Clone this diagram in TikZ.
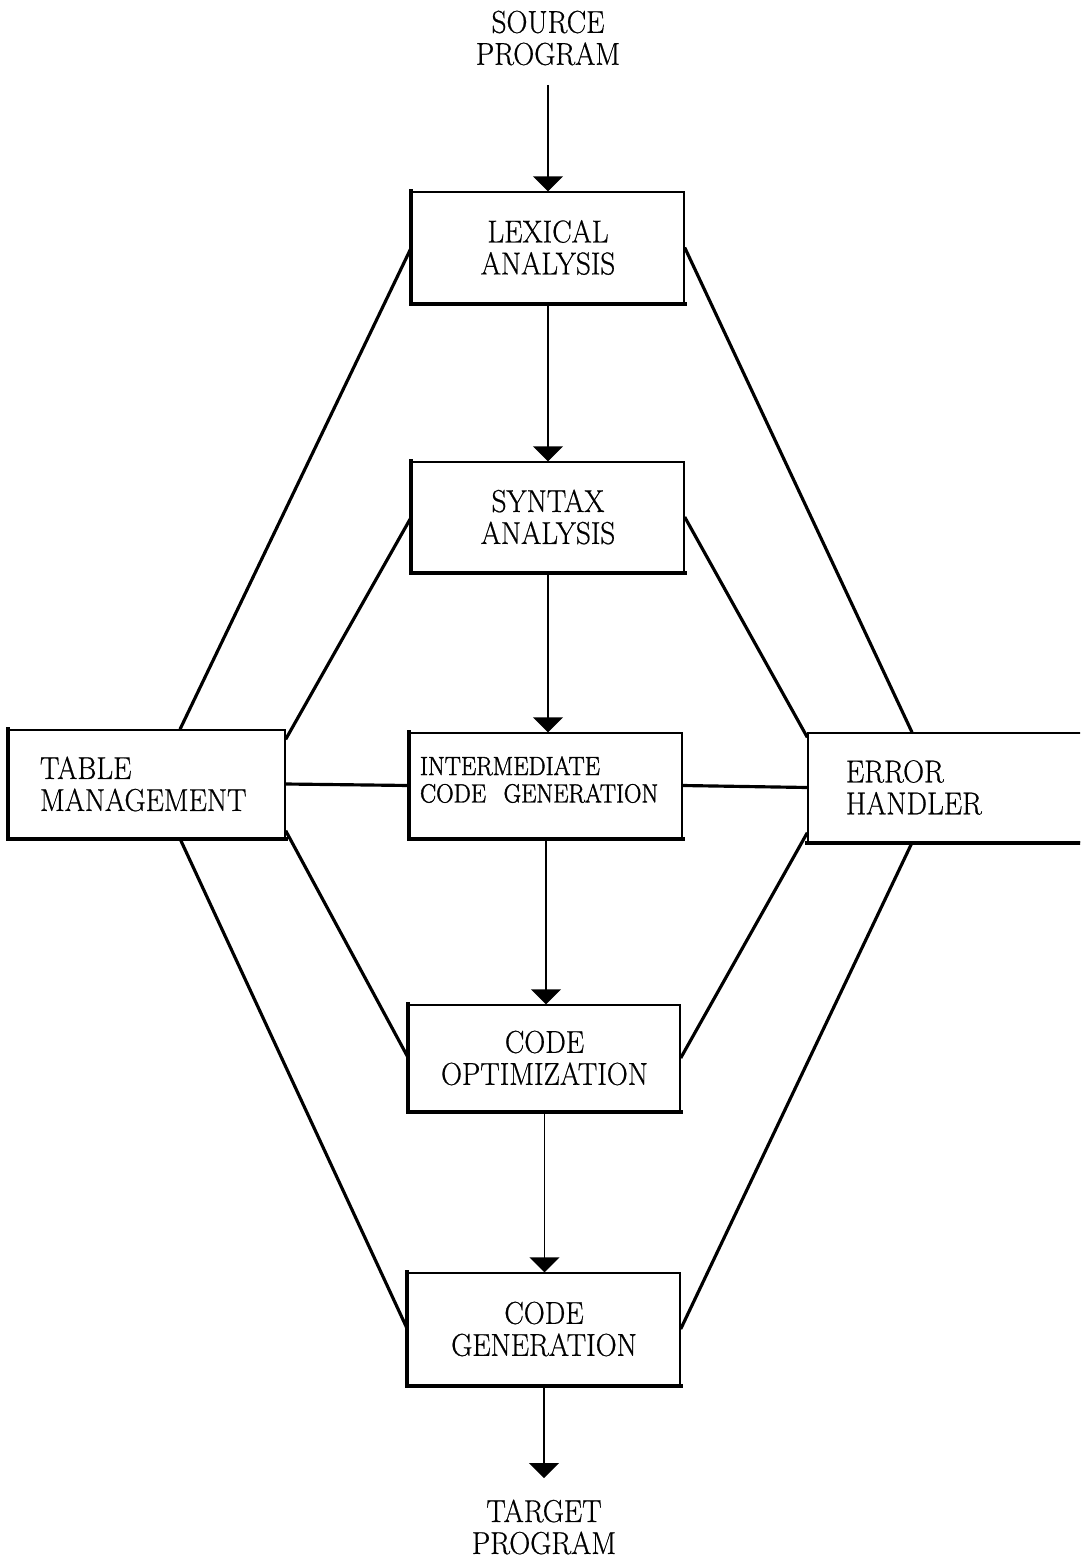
\documentclass[tikz,border=0pt]{standalone}
\usepackage{fontspec}
\setmainfont{Latin Modern Roman}[FakeStretch=0.92,FakeBold=0.6]
\newfontfamily\heavyfont{Latin Modern Roman}[FakeStretch=0.92,FakeBold=1.4]
\usetikzlibrary{arrows.meta,calc}
\begin{document}
\begin{tikzpicture}[x=0.02cm,y=-0.02cm,
  box/.style={draw,line width=0.8pt,align=center,inner sep=0pt,
    font=\fontsize{18}{18.2}\selectfont},
  lbox/.style={draw,line width=0.8pt,align=left,inner ysep=0pt,
    font=\fontsize{18}{18.2}\selectfont},
  ibox/.style={draw,line width=0.8pt,align=left,inner ysep=0pt,
    font=\heavyfont\fontsize{15}{15.6}\selectfont},
  lbl/.style={align=center,inner sep=0pt,font=\fontsize{18}{18.2}\selectfont},
  arr/.style={line width=0.75pt,-{Triangle[width=17pt,length=8.5pt]}},
  link/.style={line width=1.8pt},
  heavyedge/.style={line width=2.2pt,line cap=rect}]
\useasboundingbox (0,0) rectangle (1080,1561);
\clip (0,0) rectangle (1080,1561);

% texts
\node[lbl] (src) at (548,38) {SOURCE\\PROGRAM};
\node[lbl] (tgt) at (544,1527) {TARGET\\PROGRAM};
\coordinate (srcend) at (548,85);
\coordinate (tgtend) at (544,1478);

% boxes
\node[box,minimum width=272*0.02cm,minimum height=111*0.02cm] (lex) at (548,247.5) {LEXICAL\\ANALYSIS};
\node[box,minimum width=272*0.02cm,minimum height=110*0.02cm] (syn) at (548,517) {SYNTAX\\ANALYSIS};
\node[ibox,inner xsep=10*0.02cm,text width=252*0.02cm,text depth=22.5pt,minimum width=272*0.02cm,minimum height=105*0.02cm] (int) at (546,785.5) {INTERMEDIATE\\CODE\ \ GENERATION};
\node[box,minimum width=271*0.02cm,minimum height=106*0.02cm] (opt) at (544.5,1058) {CODE\\OPTIMIZATION};
\node[box,minimum width=272*0.02cm,minimum height=112*0.02cm] (gen) at (544,1329) {CODE\\GENERATION};
\node[lbox,inner xsep=31*0.02cm,text width=214*0.02cm,minimum width=276*0.02cm,minimum height=108*0.02cm] (tab) at (147,784) {TABLE\\MANAGEMENT};
\node[lbox,inner xsep=38*0.02cm,text width=206*0.02cm,minimum width=282*0.02cm,minimum height=109*0.02cm] (err) at (949,787.5) {ERROR\\HANDLER};

% heavier left and bottom edges of the boxes
\foreach \b in {lex,syn,int,opt,gen,tab}
  \draw[heavyedge] (\b.north west) -- (\b.south west) -- (\b.south east);
\draw[heavyedge] (err.south west) -- (err.south east);

% main flow
\draw[arr] (srcend) -- (lex.north);
\draw[arr] (lex.south) -- (syn.north);
\draw[arr] (syn.south) -- (syn.south |- int.north);
\draw[arr] (int.south) -- (int.south |- opt.north);
\draw[arr] (opt.south) -- (opt.south |- gen.north);
\draw[arr] (gen.south) -- (tgtend);

% links to table management and error handler
\draw[link] (lex.west) -- ($(tab.north)+(33,0)$);
\draw[link] (lex.east) -- ($(err.north)+(-37,0)$);
\draw[link] (syn.west) -- ($(tab.north east)+(0,10)$);
\draw[link] (syn.east) -- ($(err.north west)+(0,5)$);
\draw[link] (tab.east) -- (int.west);
\draw[link] (int.east) -- (err.west);
\draw[link] ($(tab.south east)+(0,-8)$) -- (opt.west);
\draw[link] ($(err.south west)+(0,-10)$) -- (opt.east);
\draw[link] ($(tab.south)+(33,0)$) -- (gen.west);
\draw[link] ($(err.south)+(-37,0)$) -- (gen.east);
\end{tikzpicture}
\end{document}
